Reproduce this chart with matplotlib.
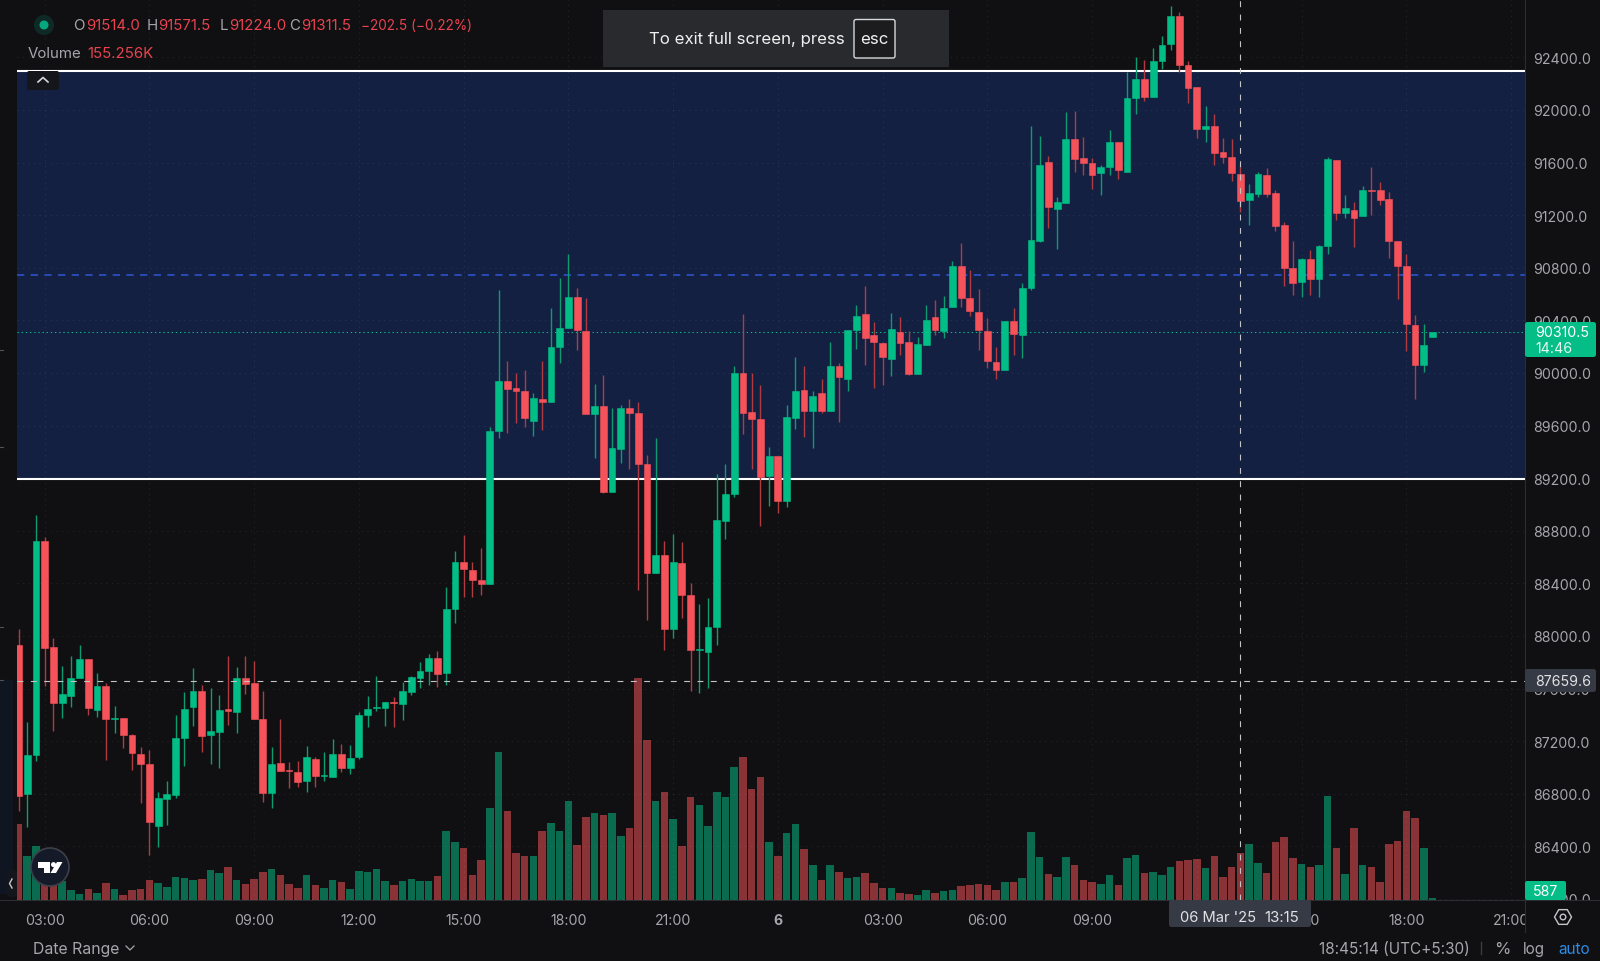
import matplotlib
matplotlib.use("Agg")
import matplotlib.pyplot as plt
from matplotlib.patches import Rectangle, FancyBboxPatch, Polygon, Circle
import numpy as np

plt.rcParams["font.family"] = ["Inter", "DejaVu Sans"]

# 15 min candles, 5 Mar 02:15 -> 6 Mar 18:45
opens = [87933, 86797, 87091, 88719, 87915, 87492, 87540, 87680, 87822, 87436,
         87621, 87370, 87373, 87246, 87102, 87026, 86552, 86757, 86792, 87223,
         87457, 87581, 87244, 87271, 87441, 87419, 87680, 87639, 87368, 86808,
         87033, 86982, 86967, 86894, 87064, 86932, 86929, 87102, 86993, 87076,
         87398, 87451, 87449, 87500, 87482, 87571, 87682, 87730, 87829, 87715,
         88202, 88564, 88503, 88425, 88397, 89561, 89939, 89883, 89865, 89637,
         89799, 89781, 90195, 90339, 90575, 90321, 89690, 89748, 89092, 89424,
         89736, 89693, 89307, 88481, 88613, 88053, 88552, 88311, 87893, 87880,
         88068, 88871, 89079, 90000, 89700, 89652, 89219, 89366, 89023, 89660,
         89868, 89710, 89845, 89710, 90053, 89956, 90326, 90448, 90288, 90227,
         90108, 90309, 90232, 89989, 90215, 90423, 90319, 90499, 90810, 90570,
         90461, 90321, 90083, 90020, 90392, 90291, 90646, 91003, 91601, 91246,
         91295, 91779, 91632, 91596, 91518, 91566, 91753, 91532, 92088, 92235,
         92100, 92369, 92501, 92711, 92344, 92171, 91852, 91877, 91677, 91639,
         91514, 91312, 91360, 91502, 91368, 91122, 90800, 90691, 90863, 90716,
         90967, 91619, 91218, 91243, 91195, 91393, 91388, 91322, 91005, 90812,
         90364, 90062, 90275]
highs = [88052, 87342, 88919, 88749, 87981, 87773, 87844, 87931, 87822, 87718,
         87642, 87464, 87373, 87251, 87152, 87135, 86810, 86899, 87396, 87573,
         87756, 87629, 87601, 87548, 87847, 87761, 87847, 87811, 87578, 87155,
         87365, 87043, 87051, 87160, 87081, 87114, 87213, 87175, 87173, 87419,
         87543, 87692, 87495, 87538, 87647, 87697, 87801, 87860, 87882, 88374,
         88643, 88770, 88564, 88666, 89586, 90631, 90093, 90002, 90022, 89847,
         90093, 90491, 90722, 90902, 90643, 90567, 89918, 89984, 89733, 89754,
         89802, 89779, 89373, 89503, 88722, 88775, 88712, 88400, 88240, 88288,
         89231, 89305, 90053, 90448, 89997, 89906, 89439, 89366, 89756, 90124,
         90053, 89860, 89951, 90235, 90073, 90324, 90514, 90658, 90387, 90235,
         90453, 90423, 90316, 90276, 90514, 90554, 90582, 90848, 90988, 90780,
         90635, 90415, 90194, 90392, 90496, 90681, 91875, 91799, 91650, 91335,
         91982, 91992, 91794, 91634, 91584, 91850, 91753, 92290, 92402, 92379,
         92475, 92559, 92787, 92742, 92371, 92171, 92027, 91966, 91788, 91783,
         91571.5, 91436, 91532, 91558, 91388, 91145, 91000, 90878, 90932, 90977,
         91641, 91619, 91352, 91302, 91423, 91563, 91454, 91375, 91005, 90901,
         90440, 90371, 90311]
lows = [86671, 86544, 87051, 87621, 87274, 87378, 87462, 87680, 87401, 87383,
        87058, 87261, 87147, 86982, 86726, 86336, 86397, 86562, 86767, 87013,
        87317, 87114, 87026, 86993, 87322, 87261, 87560, 87365, 86734, 86693,
        86975, 86846, 86853, 86815, 86853, 86896, 86929, 86962, 86952, 87064,
        87310, 87426, 87312, 87310, 87363, 87553, 87601, 87626, 87614, 87629,
        88100, 88293, 88298, 88313, 88397, 89503, 89546, 89619, 89591, 89523,
        89568, 89781, 90078, 90339, 90177, 89690, 89350, 89084, 89092, 89315,
        89269, 88352, 88118, 88481, 87893, 87984, 88136, 87584, 87563, 87606,
        87933, 88737, 89054, 89533, 89269, 88833, 88990, 88935, 88983, 89571,
        89515, 89432, 89695, 89710, 89629, 89865, 90184, 90063, 89885, 89908,
        89979, 90136, 89984, 89989, 90215, 90291, 90263, 90499, 90501, 90433,
        90177, 90037, 89954, 90020, 90136, 90116, 90633, 90993, 91102, 90945,
        91295, 91525, 91505, 91401, 91353, 91505, 91472, 91532, 91971, 92072,
        92100, 92311, 92455, 92290, 92055, 91786, 91753, 91581, 91593, 91459,
        91224, 91124, 91337, 91337, 91076, 90658, 90592, 90577, 90592, 90579,
        90901, 91165, 91175, 90957, 91195, 91205, 91276, 90873, 90561, 90166,
        89801, 90004, 90275]
closes = [86785, 87094, 88719, 87905, 87489, 87555, 87680, 87822, 87451, 87616,
          87368, 87378, 87244, 87109, 87026, 86582, 86767, 86797, 87223, 87446,
          87581, 87236, 87274, 87436, 87429, 87680, 87636, 87365, 86805, 87026,
          86975, 86975, 86889, 87076, 86937, 86942, 87102, 86993, 87069, 87396,
          87441, 87459, 87495, 87492, 87578, 87685, 87733, 87829, 87710, 88202,
          88564, 88506, 88425, 88394, 89561, 89939, 89880, 89860, 89655, 89807,
          89781, 90197, 90339, 90577, 90329, 89690, 89748, 89092, 89427, 89736,
          89695, 89307, 88476, 88613, 88053, 88560, 88311, 87893, 87900, 88065,
          88881, 89082, 90000, 89698, 89650, 89206, 89366, 89023, 89662, 89865,
          89710, 89827, 89710, 90053, 89972, 90324, 90430, 90263, 90232, 90121,
          90334, 90230, 89989, 90220, 90405, 90324, 90496, 90810, 90570, 90468,
          90326, 90093, 90020, 90392, 90298, 90648, 91013, 91581, 91262, 91297,
          91779, 91629, 91596, 91508, 91563, 91753, 91546, 92088, 92235, 92100,
          92369, 92493, 92711, 92341, 92169, 91852, 91880, 91674, 91639, 91517,
          91311.5, 91370, 91510, 91363, 91119, 90800, 90686, 90863, 90716, 90962,
          91624, 91218, 91251, 91180, 91390, 91385, 91319, 91003, 90812, 90369,
          90062, 90212, 90310.5]
# volume in thousands
volumes = [252, 146, 181, 91, 91, 63, 32, 19, 35, 23,
           55, 35, 16, 33, 38, 65, 58, 44, 77, 72,
           65, 71, 100, 90, 111, 68, 54, 70, 94, 102,
           84, 54, 41, 82, 50, 41, 68, 61, 35, 95,
           92, 102, 62, 50, 63, 69, 63, 63, 81, 228,
           193, 174, 84, 134, 307, 493, 295, 156, 145, 145,
           228, 255, 228, 329, 183, 276, 288, 284, 288, 212,
           241, 740, 531, 329, 360, 271, 181, 343, 315, 246,
           360, 343, 442, 474, 369, 410, 194, 147, 224, 254,
           169, 116, 65, 116, 92, 72, 78, 90, 58, 41,
           39, 23, 21, 18, 32, 24, 29, 34, 45, 49,
           52, 50, 32, 60, 59, 72, 226, 144, 85, 75,
           144, 115, 65, 60, 52, 83, 49, 140, 150, 89,
           92, 83, 110, 131, 133, 136, 105, 145, 78, 111,
           155.256, 187, 123, 91, 193, 211, 139, 119, 110, 115,
           345, 172, 86, 238, 115, 109, 59, 185, 197, 296,
           273, 172, 5]

time_idx = [3, 15, 27, 39, 51, 63, 75, 87, 99, 111, 123, 135, 147, 159, 171]
# the 12:00 of the second day is hidden by the date tooltip
time_labels = ["03:00", "06:00", "09:00", "12:00", "15:00", "18:00", "21:00", "6",
               "03:00", "06:00", "09:00", "", "15:00", "18:00", "21:00"]
price_ticks = list(range(86000, 92800, 400))
zone_top = 92298
zone_bottom = 89190
blue_level = 90745
last_price = 90310.5
cross_price = 87659.6
cross_idx = 140

BG = "#101012"
UP = "#02bd85"
DOWN = "#f6525a"
UP_WICK = "#0c9c70"
DOWN_WICK = "#b03c42"
UP_VOL = "#0a6b4e"
DOWN_VOL = "#8a3337"
GREY = "#a6a6ab"
RED_TXT = "#e8434f"

W, H = 1600, 962
fig = plt.figure(figsize=(W / 100, H / 100), dpi=100, facecolor=BG)
pane = [17 / W, 1 - 901 / H, (1525 - 17) / W, 901 / H]

x = np.arange(len(closes))
o, c, hi, lo = map(np.array, (opens, closes, highs, lows))
up = c >= o
xlim = (-0.172, 172.6)

# volume pane sits under the candles
ax_v = fig.add_axes(pane, zorder=1, facecolor="none")
ax_v.bar(x, volumes, width=0.86, color=np.where(up, UP_VOL, DOWN_VOL))
ax_v.set_xlim(xlim)
ax_v.set_ylim(0, 901 * 3.326)
ax_v.axis("off")

ax = fig.add_axes(pane, zorder=2, facecolor="none")
ax.set_xlim(xlim)
ax.set_ylim(85992, 92844)
ax.set_axisbelow(True)
ax.grid(True, color="white", alpha=0.085, lw=0.8, linestyle=(0, (1, 4)))

ax.add_patch(Rectangle((xlim[0], zone_bottom), xlim[1] - xlim[0], zone_top - zone_bottom,
                       facecolor="#132041", edgecolor="none", zorder=0.3))
ax.hlines([zone_top, zone_bottom], *xlim, color="white", lw=1.5, zorder=1.5)
ax.axhline(blue_level, color="#2c52c8", lw=1.2, linestyle=(0, (4.4, 3.8)), zorder=1.5)
ax.axhline(last_price, color="#0fb98a", lw=0.75, linestyle=(0, (1.3, 2.7)), zorder=1.5)

ax.vlines(x, lo, hi, color=np.where(up, UP_WICK, DOWN_WICK), lw=1.0, zorder=2)
ax.bar(x, np.abs(c - o), bottom=np.minimum(o, c), width=0.78,
       color=np.where(up, UP, DOWN), edgecolor=np.where(up, UP, DOWN), lw=0.4, zorder=3)

ax.axhline(cross_price, color="#c4c4c4", lw=0.8, linestyle=(0, (5.3, 6.7)), zorder=4)
ax.axvline(cross_idx, color="#c4c4c4", lw=0.8, linestyle=(0, (5.3, 6.7)), zorder=4)

ax.set_xticks(time_idx)
ax.set_xticklabels(time_labels)
ax.get_xticklabels()[7].set_fontweight("bold")
ax.set_yticks(price_ticks)
ax.set_yticklabels([f"{p:.1f}" for p in price_ticks])
ax.yaxis.tick_right()
ax.tick_params(axis="x", length=0, pad=9.3, labelsize=10.2, labelcolor=GREY)
ax.tick_params(axis="y", length=0, pad=5.8, labelsize=10.2, labelcolor=GREY)
for lbl in ax.get_yticklabels():
    lbl.set_ha("left")
for s in ax.spines.values():
    s.set_visible(False)

# screen furniture, drawn in pixels on a full size overlay
ui = fig.add_axes([0, 0, 1, 1], zorder=5, facecolor="none")
ui.set_xlim(0, W)
ui.set_ylim(H, 0)
ui.axis("off")


def box(x0, y0, x1, y1, color, rad=0.0, ec="none", lw=0, z=2):
    if rad:
        p = FancyBboxPatch((x0 + rad, y0 + rad), x1 - x0 - 2 * rad, y1 - y0 - 2 * rad,
                           boxstyle=f"round,pad={rad},rounding_size={rad}",
                           facecolor=color, edgecolor=ec, lw=lw, zorder=z)
    else:
        p = Rectangle((x0, y0), x1 - x0, y1 - y0, facecolor=color, edgecolor=ec, lw=lw, zorder=z)
    ui.add_patch(p)


def label(px, py, s, color=GREY, size=10.2, ha="left", weight="normal", z=4):
    ui.text(px, py + 1.5, s, color=color, fontsize=size, ha=ha, va="center", fontweight=weight, zorder=z)


# hide what runs under the time scale
box(0, 901, 17, 933, BG, z=1)
box(1525, 901, W, 933, BG, z=1)
box(0, 933, W, H, BG, z=1)
ui.plot([0, W], [901, 901], color="#2b2d33", lw=0.8, zorder=1.5)
ui.plot([1525, 1525], [0, 933], color="#2b2d33", lw=0.8, zorder=1.5)

# left strip
box(0, 681, 13, 895, "#0f1622", z=0.5)
for yy in [351, 448, 628, 681]:
    ui.plot([0, 3], [yy, yy], color="#50525a", lw=0.8)
box(7, 870, 17, 898, "#14161c", rad=4, z=1.2)
ui.plot([12, 9.5, 12], [880, 884.5, 889], color="#c9c9cc", lw=1.0, zorder=3)

# header
ui.add_patch(Circle((44, 26), 10, facecolor="#0f2a26", edgecolor="none", zorder=2))
ui.add_patch(Circle((44, 26), 4.5, facecolor="#06a67f", edgecolor="none", zorder=3))
for px, s, col in [(73, "O", GREY), (86, "91514.0", RED_TXT), (147, "H", GREY), (158.5, "91571.5", RED_TXT),
                   (219.5, "L", GREY), (229, "91224.0", RED_TXT), (289, "C", GREY), (301, "91311.5", RED_TXT)]:
    label(px, 25, s, col, 10.8)
label(361, 25, "−202.5 (−0.22%)", RED_TXT, 9.8)
label(28, 52, "Volume", GREY, 10.8)
label(87, 52, "155.256K", RED_TXT, 10.8)

# fullscreen banner
box(603, 11, 949, 68, "#292a2e", z=2)
label(649, 38, "To exit full screen, press", "#f0f0f0", 12.1)
box(854, 20.5, 895, 59, "#1c1c1f", rad=2, ec="#d8d8d8", lw=1.0, z=3)
label(874.5, 38, "esc", "#f0f0f0", 12.1, ha="center")

# collapse button
box(27, 72, 59, 91, "#14161c", rad=2, z=2)
ui.plot([38, 43, 48], [83, 78.5, 83], color="#d8d8d8", lw=1.2, zorder=3)

# logo
ui.add_patch(Circle((50, 868), 19, facecolor="#151a28", edgecolor="#3d404b", lw=1.2, zorder=3))
ui.add_patch(Polygon([(38, 863), (50, 863), (50, 874), (43.5, 874), (43.5, 868.5), (38, 868.5)],
                     facecolor="white", zorder=4))
ui.add_patch(Circle((53.5, 865.6), 2.5, facecolor="white", zorder=4))
ui.add_patch(Polygon([(57, 863), (62.5, 863), (56, 874), (50.5, 874)], facecolor="white", zorder=4))

# price scale tags
box(1525, 323, 1596, 358, "#05bd86", rad=2.5, z=2)
label(1535, 332, "90310.5", "white")
label(1535, 348, "14:46", "#e4f7f0")
box(1525, 670, 1596, 693, "#363a45", rad=2.5, z=2)
label(1535, 681, "87659.6", "#e2e2e4")
box(1525, 882, 1566, 901, "#05bd86", rad=2, z=2)
label(1546, 891, "587", "white", ha="center")

# date tooltip over the time scale
box(1169, 901, 1311, 928, "#363a45", rad=2.5, z=2)
label(1180, 917, "06 Mar '25", "#e2e2e4", 10.6)
label(1264, 917, "13:15", "#e2e2e4", 10.8)

# settings hexagon
ang = np.deg2rad(np.arange(0, 360, 60))
ui.add_patch(Polygon(np.c_[1563 + 8.5 * np.cos(ang), 918 + 8.5 * np.sin(ang)], closed=True,
                     facecolor="none", edgecolor="#c6c6ca", lw=1.0, zorder=3))
ui.add_patch(Circle((1563, 918), 2.8, facecolor="none", edgecolor="#c6c6ca", lw=1.0, zorder=3))

# bottom bar
label(33, 948.5, "Date Range", GREY, 11.4)
ui.plot([126, 130, 134], [947, 951, 947], color=GREY, lw=0.9)
label(1319, 948.5, "18:45:14 (UTC+5:30)", GREY, 11)
ui.plot([1481, 1481], [943, 955], color="#3a3c42", lw=1.0)
label(1494, 948.5, "%", GREY, 12)
label(1523, 948.5, "log", GREY, 11)
label(1558, 948.5, "auto", "#2a8be8", 11)

fig.savefig("out.png", dpi=100, facecolor=BG)
